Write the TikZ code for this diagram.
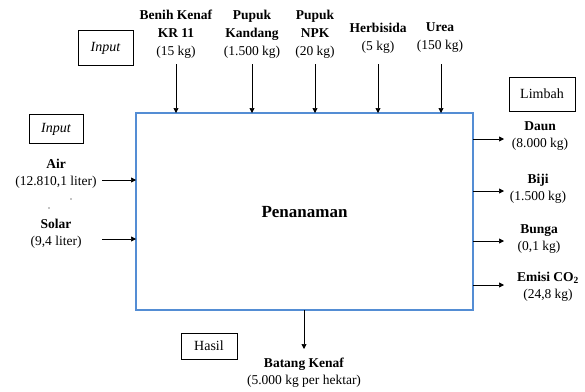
\documentclass[tikz,border=0pt]{standalone}
\usepackage{fontspec}
\setmainfont{Liberation Serif}
\usetikzlibrary{arrows.meta}
\definecolor{procblue}{RGB}{84,141,212}
\begin{document}
\begin{tikzpicture}[x=1pt,y=-1pt,
  lbl/.style={align=center,font=\fontsize{13.5}{17}\selectfont,inner sep=0pt},
  toplbl/.style={align=center,font=\fontsize{13.5}{18}\selectfont,inner sep=0pt},
  tagbox/.style={draw,line width=0.7pt,inner sep=0pt,font=\fontsize{14}{16}\selectfont},
  flow/.style={-{Triangle[length=5pt,width=5pt]},line width=0.7pt}]
\useasboundingbox (0,0) rectangle (585,391);
% process box
\draw[draw=procblue,line width=1.5pt] (136,113) rectangle (473,310);
\node[font=\bfseries\fontsize{17}{20}\selectfont] (proc) at (304.5,212) {Penanaman};
% section tags
\node[tagbox,minimum width=55pt,minimum height=35pt] (tin1) at (105.5,48) {\itshape Input};
\node[tagbox,minimum width=54pt,minimum height=29pt] (tin2) at (56,129) {\itshape Input};
\node[tagbox,minimum width=66pt,minimum height=34pt] (tlim) at (542,94) {Limbah};
\node[tagbox,minimum width=56pt,minimum height=26pt] (thas) at (209,346) {Hasil};
% top inputs
\node[toplbl] (benih) at (176,34) {\textbf{Benih Kenaf}\\\textbf{KR 11}\\(15 kg)};
\node[toplbl] (kandang) at (252,34) {\textbf{Pupuk}\\\textbf{Kandang}\\(1.500 kg)};
\node[toplbl] (npk) at (315,34) {\textbf{Pupuk}\\\textbf{NPK}\\(20 kg)};
\node[toplbl] (herb) at (378,38) {\textbf{Herbisida}\\(5 kg)};
\node[toplbl] (urea) at (440,38) {\textbf{Urea}\\(150 kg)};
\foreach \n/\x in {benih/176,kandang/252,npk/315,herb/378,urea/441}{
  \coordinate (\n-s) at (\x,64);
  \coordinate (\n-e) at (\x,113);
  \draw[flow] (\n-s) -- (\n-e);
}
% left inputs
\node[lbl] (air) at (56,174) {\textbf{Air}\\(12.810,1 liter)};
\node[lbl] (solar) at (56,234) {\textbf{Solar}\\(9,4 liter)};
\fill (71,199) circle (0.6pt) (49,208) circle (0.6pt);
\coordinate (air-s) at (102,180); \coordinate (air-e) at (136,180);
\coordinate (solar-s) at (102,239); \coordinate (solar-e) at (136,239);
\draw[flow] (air-s) -- (air-e);
\draw[flow] (solar-s) -- (solar-e);
% right outputs
\node[lbl] (daun) at (540,136) {\textbf{Daun}\\(8.000 kg)};
\node[lbl] (biji) at (538,189) {\textbf{Biji}\\(1.500 kg)};
\node[lbl] (bunga) at (539,239) {\textbf{Bunga}\\(0,1 kg)};
\node[lbl] (emisi) at (548,287) {\textbf{Emisi CO\textsubscript{2}}\\(24,8 kg)};
\foreach \n/\y in {daun/139,biji/191,bunga/241,emisi/285}{
  \coordinate (\n-s) at (473,\y);
  \coordinate (\n-e) at (504,\y);
  \draw[flow] (\n-s) -- (\n-e);
}
% bottom output
\node[lbl] (batang) at (304,373) {\textbf{Batang Kenaf}\\(5.000 kg per hektar)};
\coordinate (bat-s) at (304,310); \coordinate (bat-e) at (304,349);
\draw[flow] (bat-s) -- (bat-e);
\end{tikzpicture}
\end{document}
